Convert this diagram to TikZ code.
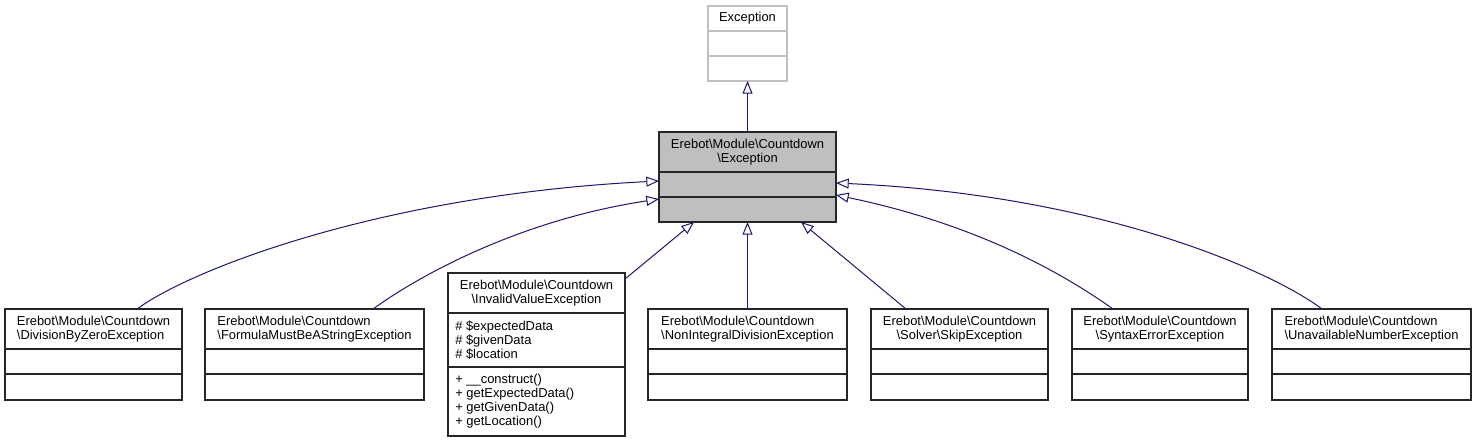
\documentclass[tikz,border=0pt]{standalone}
\usepackage{fontspec}
\setmainfont{Liberation Sans}
\usetikzlibrary{arrows.meta,calc}
\definecolor{edgeblue}{HTML}{191970}
\definecolor{nodegray}{HTML}{BFBFBF}
\newcommand\ufont{\fontsize{9.7}{10.5}\selectfont}
\newcommand\bs{\textbackslash}
\newcommand\mkcls[6][]{%
  \node[cls,#1,minimum width={(#5-#3)*0.75pt},minimum height={(#6-#4)*0.75pt}] (#2) at (#3,#4) {};}
\tikzset{
  cls/.style={draw=black!85, line width=0.8pt, inner sep=0pt, outer sep=0pt, anchor=north west},
  clsline/.style={draw=black!85, line width=0.8pt},
  txt/.style={font=\ufont, inner sep=0pt, text=black},
  inh/.style={draw=edgeblue, line width=0.75pt, -{Triangle[open, length=9.5pt, width=7.5pt]}},
}
\begin{document}
\begin{tikzpicture}[x=0.75pt,y=-0.75pt]
\useasboundingbox[fill=white] (0,0) rectangle (1476,443);
% parent Exception
\mkcls[draw=nodegray]{E}{708}{6}{787}{81}
\draw[clsline,draw=nodegray] (708,31) -- (787,31) (708,56) -- (787,56);
\node[txt] (Et) at (747.5,18.5) {Exception};
% central
\mkcls[fill=nodegray]{C}{659}{132}{836}{222}
\draw[clsline] (659,172) -- (836,172) (659,197) -- (836,197);
\node[txt,align=center] (Ct) at (747.5,152) {Erebot\bs Module\bs Countdown\\\bs Exception};
% children
\mkcls{B1}{5}{309}{182}{400}
\draw[clsline] (5,349) -- (182,349) (5,374) -- (182,374);
\node[txt,align=left] (B1t) at (93.5,329) {Erebot\bs Module\bs Countdown\\\bs DivisionByZeroException};
\mkcls{B2}{205}{309}{424}{400}
\draw[clsline] (205,349) -- (424,349) (205,374) -- (424,374);
\node[txt,align=left] (B2t) at (314.5,329) {Erebot\bs Module\bs Countdown\\\bs FormulaMustBeAStringException};
\mkcls{B3}{448}{273}{625}{436}
\draw[clsline] (448,313) -- (625,313) (448,367) -- (625,367);
\node[txt,align=center] (B3t) at (536.5,293) {Erebot\bs Module\bs Countdown\\\bs InvalidValueException};
\node[txt,align=left,anchor=west] (B3a) at (455,340) {\# \$expectedData\\\# \$givenData\\\# \$location};
\node[txt,align=left,anchor=west] (B3m) at (455,401.5) {+ \_\_construct()\\+ getExpectedData()\\+ getGivenData()\\+ getLocation()};
\mkcls{B4}{648}{309}{847}{400}
\draw[clsline] (648,349) -- (847,349) (648,374) -- (847,374);
\node[txt,align=left] (B4t) at (747.5,329) {Erebot\bs Module\bs Countdown\\\bs NonIntegralDivisionException};
\mkcls{B5}{871}{309}{1048}{400}
\draw[clsline] (871,349) -- (1048,349) (871,374) -- (1048,374);
\node[txt,align=center] (B5t) at (959.5,329) {Erebot\bs Module\bs Countdown\\\bs Solver\bs SkipException};
\mkcls{B6}{1072}{309}{1248}{400}
\draw[clsline] (1072,349) -- (1248,349) (1072,374) -- (1248,374);
\node[txt,align=center] (B6t) at (1160,329) {Erebot\bs Module\bs Countdown\\\bs SyntaxErrorException};
\mkcls{B7}{1272}{309}{1471}{400}
\draw[clsline] (1272,349) -- (1471,349) (1272,374) -- (1471,374);
\node[txt,align=left] (B7t) at (1371.5,329) {Erebot\bs Module\bs Countdown\\\bs UnavailableNumberException};
% inheritance edges
\draw[inh] (C.north) -- (E.south);
\draw[inh] ($(B1.north west)+(132,0)$) .. controls (190,270) and (380,195) .. ($(C.west)+(0,4)$);
\draw[inh] ($(B2.north west)+(168,0)$) .. controls (420,275) and (520,220) .. ($(C.west)+(0,22)$);
\draw[inh] ($(B3.north east)+(0,6)$) -- ($(C.south west)+(35,0)$);
\draw[inh] (B4.north) -- (C.south);
\draw[inh] ($(B5.north west)+(35,0)$) -- ($(C.south east)+(-35,0)$);
\draw[inh] ($(B6.north west)+(41,0)$) .. controls (1065,275) and (980,225) .. ($(C.east)+(0,18)$);
\draw[inh] ($(B7.north west)+(50,0)$) .. controls (1270,270) and (1100,195) .. ($(C.east)+(0,6)$);
\end{tikzpicture}
\end{document}
